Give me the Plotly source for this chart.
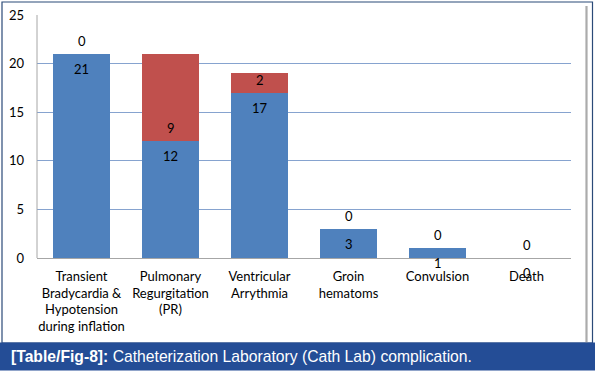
import plotly.graph_objects as go

categories = ["Transient<br>Bradycardia &<br>Hypotension<br>during inflation",
              "Pulmonary<br>Regurgitation<br>(PR)",
              "Ventricular<br>Arrythmia",
              "Groin<br>hematoms",
              "Convulsion",
              "Death"]
blue_values = [21, 12, 17, 3, 1, 0]
red_values = [0, 9, 2, 0, 0, 0]
y_ticks = [0, 5, 10, 15, 20, 25]

W, H = 598, 376
L, R, T, B = 37, 27, 15, 118
pw, ph = W - L - R, H - T - B

def px(x):
    return (x - L) / pw

def py(y):
    return (H - B - y) / ph

fig = go.Figure()
fig.add_trace(go.Bar(x=categories, y=blue_values, marker_color="#4f81bd",
                     marker_line_width=0, width=0.65, hoverinfo="skip"))
fig.add_trace(go.Bar(x=categories, y=red_values, marker_color="#c0504d",
                     marker_line_width=0, width=0.65, hoverinfo="skip"))

lab_font = dict(family="Lato, Noto Sans, sans-serif", size=13, color="#000000")
for c, b, r in zip(categories, blue_values, red_values):
    fig.add_annotation(x=c, y=b, text=str(b), showarrow=False, yshift=-15,
                       font=lab_font, xref="x", yref="y")
    fig.add_annotation(x=c, y=b, text=str(r), showarrow=False, yshift=13,
                       font=lab_font, xref="x", yref="y")

shapes = [
    dict(type="rect", xref="paper", yref="paper", x0=px(2), x1=px(592.5),
         y0=py(343), y1=py(2), line=dict(color="#2b4a78", width=1.2), layer="below"),
    dict(type="line", xref="paper", yref="paper", x0=px(586.5), x1=px(586.5),
         y0=py(343), y1=py(6), line=dict(color="#ababab", width=2.2)),
    dict(type="rect", xref="paper", yref="paper", x0=px(0), x1=px(595),
         y0=py(370.5), y1=py(342.5), line=dict(width=0), fillcolor="#244d96"),
    dict(type="line", xref="paper", yref="paper", x0=0, x1=0, y0=0, y1=1,
         line=dict(color="#a6a6a6", width=1)),
]

fig.add_annotation(xref="paper", yref="paper", x=px(9), y=py(356.5),
                   xanchor="left", yanchor="middle", showarrow=False,
                   text="<b>[Table/Fig-8]:</b> Catheterization Laboratory (Cath Lab) complication.",
                   font=dict(family="Liberation Sans, Arial, sans-serif", size=15.7, color="#ffffff"))

fig.update_layout(
    width=W, height=H, barmode="stack", bargap=0.35, showlegend=False,
    margin=dict(l=L, r=R, t=T, b=B, autoexpand=False),
    paper_bgcolor="#ffffff", plot_bgcolor="#ffffff",
    shapes=shapes,
    xaxis=dict(showgrid=False, showline=True, linecolor="#a6a6a6", linewidth=1,
               ticks="", tickfont=lab_font, tickangle=0, fixedrange=True, automargin=False,
               ticklabelstandoff=6),
    yaxis=dict(range=[0, 25], tickvals=y_ticks, showgrid=True, gridcolor="#86a3cf",
               gridwidth=1.3, zeroline=False, showline=False, ticks="",
               ticklabelstandoff=12, tickfont=dict(family="Lato, Noto Sans, sans-serif", size=13, color="#000000"),
               fixedrange=True, automargin=False),
)

fig.write_html("out.html", config={"displayModeBar": False},
               post_script="document.body.style.margin='0';document.body.style.overflow='hidden';")
